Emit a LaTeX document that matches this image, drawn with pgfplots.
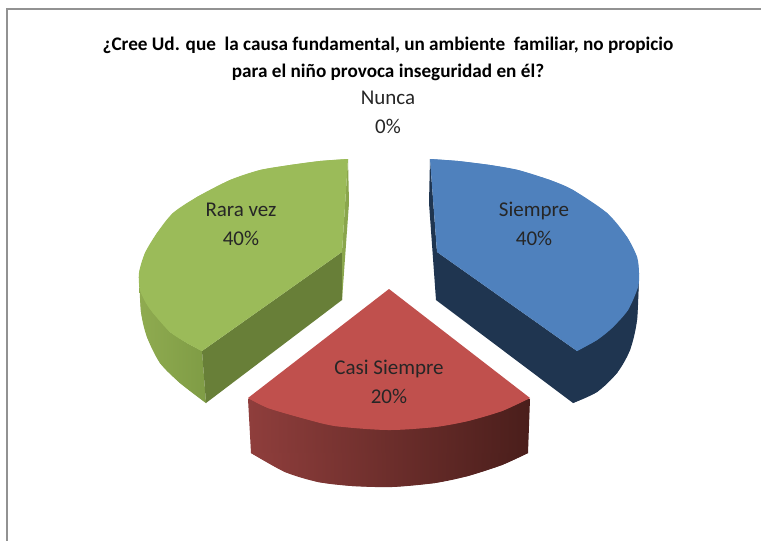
\documentclass[border=0pt]{standalone}
\usepackage{fontspec}
\setmainfont{Carlito}
\usepackage{pgfplots}
\pgfplotsset{compat=1.18}
\definecolor{gTop}{HTML}{9BBB59}
\definecolor{gWall}{HTML}{8AA64C}
\definecolor{gOutL}{HTML}{8FAB50}
\definecolor{gOutR}{HTML}{7F9C45}
\definecolor{gIn}{HTML}{687F38}
\definecolor{bTop}{HTML}{4F81BD}
\definecolor{bDark}{HTML}{1F3550}
\definecolor{rTop}{HTML}{C0504D}
\definecolor{rL}{HTML}{8F3E3C}
\definecolor{rR}{HTML}{4A1E1B}
\definecolor{fr}{HTML}{929292}
\begin{document}
\begin{tikzpicture}
\begin{axis}[
  width=761pt,height=541pt,scale only axis,
  xmin=0,xmax=761,ymin=0,ymax=541,y dir=reverse,
  hide axis,clip=true]
% canvas
\addplot[draw=none,fill=white] coordinates {(0,0)(761,0)(761,541)(0,541)} -- cycle;
% frame (top and left only are in view)
\addplot[fr,line width=2pt] coordinates {(7,541)(7,9)(761,9)};
% Rara vez: outer side
\addplot[draw=none,left color=gOutL,right color=gOutR] coordinates {
 (139,273)(143,293)(153,313)(170,332)(187,343)(202,351)(206,403)(180,383)(160,363)(147,337)(141,312)} -- cycle;
\addplot[smooth,draw=none,left color=gOutL,right color=gOutR] coordinates {
 (139,273)(141,312)(147,337)(160,363)(180,383)(206,403)} -- cycle;
% Rara vez: inner sides
\addplot[draw=none,fill=gIn] coordinates {(202,351)(342,252)(342,300)(206,403)} -- cycle;
\addplot[draw=none,fill=gWall] coordinates {(348,159)(349,203)(342,300)(342,252)} -- cycle;
% Rara vez: top
\addplot[draw=none,fill=gTop] coordinates {
 (348,159)(320,161)(290,165)(260,170)(230,180)(197,197)(173,213)(157,233)(145,253)(139,273)
 (140,290)(146,303)(153,313)(170,332)(187,343)(202,351)(342,252)} -- cycle;
\addplot[smooth,draw=none,fill=gTop] coordinates {
 (348,159)(320,161)(290,165)(260,170)(230,180)(197,197)(173,213)(157,233)(145,253)(139,273)
 (140,290)(146,303)(153,313)(170,332)(187,343)(202,351)} -- cycle;
% Siempre: sides
\addplot[draw=none,fill=bDark] coordinates {
 (430,159)(429,203)(436,300)(573,403)(597,392)(617,373)(630,350)(637,320)(639,273)(577,351)(437,252)} -- cycle;
\addplot[smooth,draw=none,fill=bDark] coordinates {
 (639,273)(637,320)(630,350)(617,373)(597,392)(573,403)} -- cycle;
% Siempre: top
\addplot[draw=none,fill=bTop] coordinates {
 (430,159)(458,161)(490,165)(518,170)(550,180)(573,190)(607,213)(627,237)(637,257)(639,273)(638,287)
 (628,310)(612,328)(597,340)(577,351)(437,252)} -- cycle;
\addplot[smooth,draw=none,fill=bTop] coordinates {
 (430,159)(458,161)(490,165)(518,170)(550,180)(573,190)(607,213)(627,237)(637,257)(639,273)(638,287)
 (628,310)(612,328)(597,340)(577,351)} -- cycle;
% Casi Siempre: side
\addplot[draw=none,left color=rL,right color=rR] coordinates {
 (248,399)(530,399)(528,453)(502,465)(468,476)(435,483)(392,487)(352,486)(318,482)(285,472)(251,453)} -- cycle;
\addplot[smooth,draw=none,left color=rL,right color=rR] coordinates {
 (251,453)(285,472)(318,482)(352,486)(392,487)(435,483)(468,476)(502,465)(528,453)} -- cycle;
% Casi Siempre: top
\addplot[draw=none,fill=rTop] coordinates {
 (389,289)(530,398)(502,411)(468,421)(435,427)(388,430)(335,426)(302,418)(268,408)(248,398)} -- cycle;
\addplot[smooth,draw=none,fill=rTop] coordinates {
 (530,398)(502,411)(468,421)(435,427)(388,430)(335,426)(302,418)(268,408)(248,398)} -- cycle;
% texts
\node[font=\fontsize{19.2}{27}\selectfont\bfseries,align=center,text=black] at (axis cs:388,59)
 {¿Cree Ud. que\ \ la causa fundamental, un ambiente\ \ familiar, no propicio\\para el niño provoca inseguridad en él?};
\node[font=\fontsize{21}{29}\selectfont,align=center,text=black!85] at (axis cs:388,112) {Nunca\\0\%};
\node[font=\fontsize{21}{29}\selectfont,align=center,text=black!85] at (axis cs:241,224) {Rara vez\\40\%};
\node[font=\fontsize{21}{29}\selectfont,align=center,text=black!85] at (axis cs:534,224) {Siempre\\40\%};
\node[font=\fontsize{21}{29}\selectfont,align=center,text=black!85] at (axis cs:389,382) {Casi Siempre\\20\%};
\end{axis}
\end{tikzpicture}
\end{document}
